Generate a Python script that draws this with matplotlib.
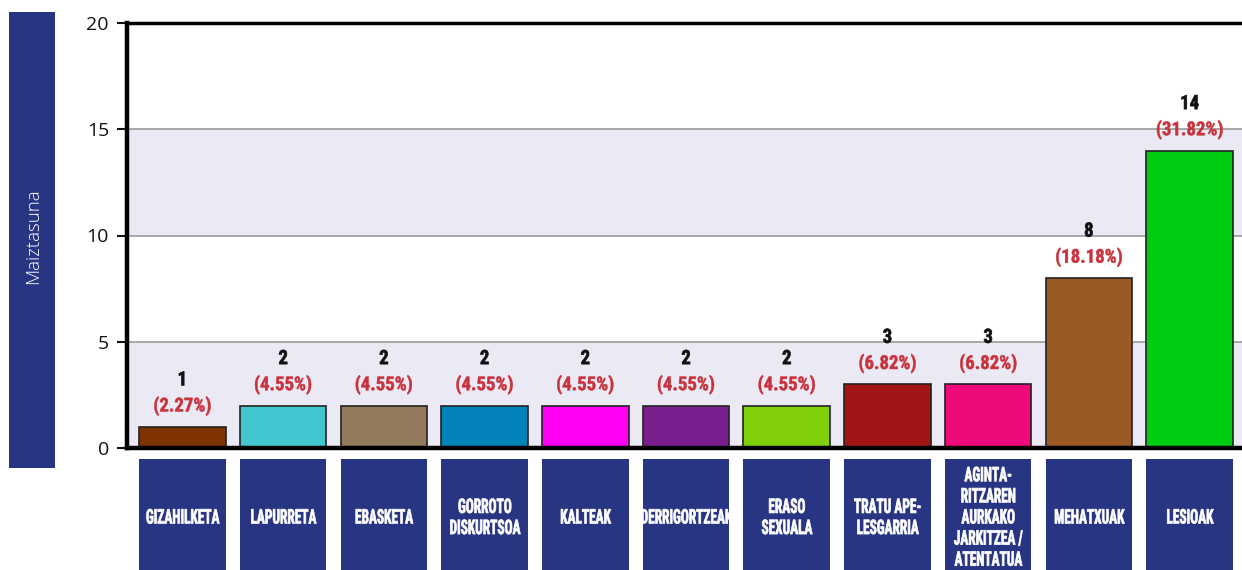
import matplotlib
matplotlib.use("Agg")
import matplotlib.pyplot as plt
from matplotlib import font_manager
from matplotlib.patches import Rectangle
from matplotlib.patheffects import AbstractPathEffect
from matplotlib.transforms import Affine2D, blended_transform_factory

# Data
categories = ["GIZAHILKETA", "LAPURRETA", "EBASKETA", "GORROTO\nDISKURTSOA", "KALTEAK",
              "DERRIGORTZEAK", "ERASO\nSEXUALA", "TRATU APE-\nLESGARRIA",
              "AGINTA-\nRITZAREN\nAURKAKO\nJARKITZEA /\nATENTATUA",
              "MEHATXUAK", "LESIOAK"]
counts = [1, 2, 2, 2, 2, 2, 2, 3, 3, 8, 14]
percents = ["2.27", "4.55", "4.55", "4.55", "4.55", "4.55", "4.55", "6.82", "6.82", "18.18", "31.82"]
bar_colors = ["#7f3300", "#42c6cf", "#937a5b", "#0284b8", "#ff00f2", "#7a1e8d",
              "#80d00e", "#a11517", "#ef0a7b", "#9b5a23", "#00cc12"]
y_ticks = [0, 5, 10, 15, 20]

NAVY = "#283583"
BAND = "#eae9f4"
PCT_RED = "#c8323c"

# Narrow bold face for the labels
installed = {f.name for f in font_manager.fontManager.ttflist}
narrow = next((n for n in ("Roboto Condensed", "Liberation Sans Narrow", "Roboto", "DejaVu Sans")
               if n in installed), "DejaVu Sans")


class Squeeze(AbstractPathEffect):
    """Compress glyphs horizontally about each line's centre and thicken the strokes."""

    def __init__(self, sx, stroke_pt=0.0):
        super().__init__()
        self.sx = sx
        self.stroke_pt = stroke_pt

    def draw_path(self, renderer, gc, tpath, affine, rgbFace=None):
        bb = tpath.get_extents(affine)
        cx = (bb.x0 + bb.x1) / 2
        squeeze = Affine2D().translate(-cx, 0).scale(self.sx, 1).translate(cx, 0)
        gc0 = renderer.new_gc()
        gc0.copy_properties(gc)
        if self.stroke_pt > 0 and rgbFace is not None:
            gc0.set_foreground(rgbFace)
            gc0.set_linewidth(self.stroke_pt)
            gc0.set_joinstyle("round")
        renderer.draw_path(gc0, tpath, affine + squeeze, rgbFace)
        gc0.restore()


fig = plt.figure(figsize=(12.42, 5.70), dpi=100)
ax = fig.add_axes([127 / 1242, 1 - 448 / 570, (1242 - 127) / 1242, (448 - 23) / 570])

# Alternating horizontal bands
for lo in (0, 10):
    ax.axhspan(lo, lo + 5, color=BAND, zorder=0, lw=0)
for y in (5, 10, 15):
    ax.axhline(y, color="#9a9a9a", lw=1.2, zorder=1)

x = list(range(len(categories)))
width = 0.86
ax.bar(x, counts, width=width, color=bar_colors, edgecolor="#222222", linewidth=1.2, zorder=2)

ax.set_xlim(-0.55, 10.52)
ax.set_ylim(0, 20)
ax.set_yticks(y_ticks)
ax.set_yticklabels([str(t) for t in y_ticks], fontsize=14, family="Open Sans", color="#111111")
ax.tick_params(axis="y", length=7, width=1.5, pad=6, color="#111111")
ax.set_xticks([])

ax.spines["right"].set_visible(False)
ax.spines["left"].set_linewidth(3.2)
ax.spines["bottom"].set_linewidth(3.2)
ax.spines["top"].set_linewidth(2.5)
for s in ("left", "bottom", "top"):
    ax.spines[s].set_color("#000000")
    ax.spines[s].set_zorder(4)

# Value and percentage labels above each bar
for xi, c, p in zip(x, counts, percents):
    ax.annotate(f"({p}%)", (xi, c), xytext=(0, 11.0), textcoords="offset points",
                ha="center", va="baseline", fontsize=13.8, fontweight="bold",
                family=narrow, color=PCT_RED, path_effects=[Squeeze(0.98, 0.35)])
    ax.annotate(str(c), (xi, c), xytext=(0, 29.8), textcoords="offset points",
                ha="center", va="baseline", fontsize=14.2, fontweight="bold",
                family=narrow, color="#111111", path_effects=[Squeeze(0.95, 0.5)])

# Category boxes under the axis
trans = blended_transform_factory(ax.transData, fig.transFigure)
box_top = 1 - 459 / 570
for xi, name in zip(x, categories):
    fig.patches.append(Rectangle((xi - width / 2, -0.05), width, box_top + 0.05,
                                 transform=trans, facecolor=NAVY, edgecolor="none"))
    fig.text(xi, 1 - 518 / 570, name, transform=trans, ha="center", va="center",
             ma="center", color="white", fontsize=14.5, fontweight="bold",
             family=narrow, linespacing=1.14, path_effects=[Squeeze(0.66, 0.5)])

# Y-axis title panel
fig.patches.append(Rectangle((9 / 1242, 1 - 468 / 570), 46 / 1242, (468 - 12) / 570,
                             transform=fig.transFigure, facecolor=NAVY, edgecolor="none"))
fig.text(33 / 1242, 1 - 236 / 570, "Maiztasuna", rotation=90, ha="center", va="center",
         color="white", fontsize=13.5, family="Open Sans", fontweight="light")

fig.savefig("out.png", dpi=100, facecolor="white")
